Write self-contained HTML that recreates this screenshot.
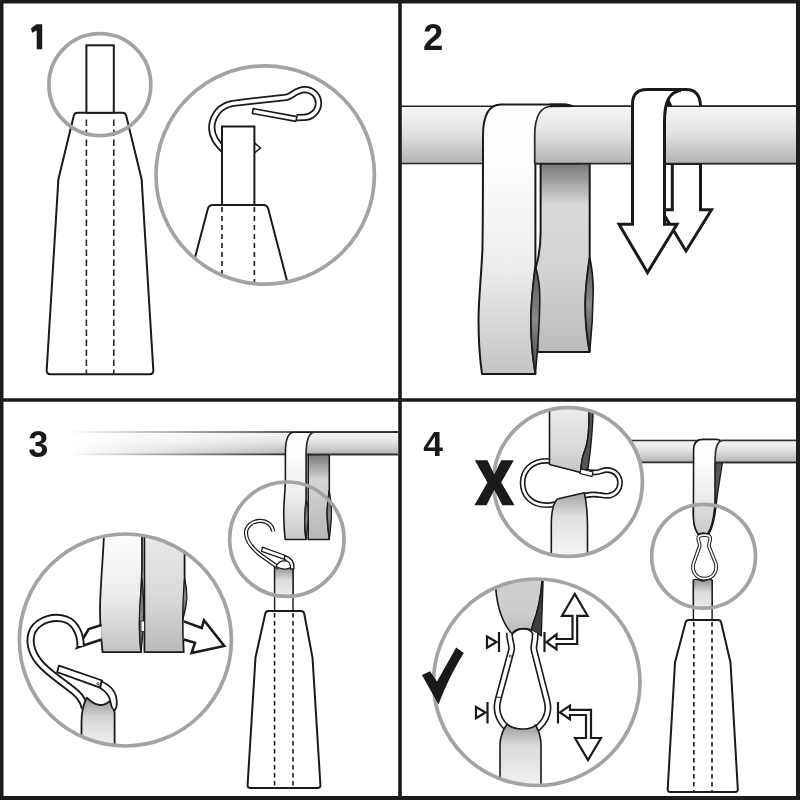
<!DOCTYPE html>
<html><head><meta charset="utf-8"><title>Instructions</title>
<style>
html,body{margin:0;padding:0;background:#fff;width:800px;height:800px;overflow:hidden}
svg{display:block}
text{font-family:"Liberation Sans",sans-serif;font-weight:bold;fill:#1a1a1a;opacity:0.999}
</style></head><body>
<svg width="800" height="800" viewBox="0 0 800 800">
<defs>
<linearGradient id="rod" x1="0" y1="0" x2="0" y2="1">
<stop offset="0" stop-color="#f6f6f6"/><stop offset="0.45" stop-color="#e2e3e4"/><stop offset="1" stop-color="#b1b3b5"/>
</linearGradient>
<linearGradient id="strapF" x1="0" y1="0" x2="0" y2="1">
<stop offset="0" stop-color="#fdfdfd"/><stop offset="0.5" stop-color="#ededed"/><stop offset="1" stop-color="#c6c6c6"/>
</linearGradient>
<linearGradient id="strapB" x1="0" y1="0" x2="0" y2="1">
<stop offset="0" stop-color="#7c7c7c"/><stop offset="0.3" stop-color="#d4d6d7"/><stop offset="1" stop-color="#b2b4b5"/>
</linearGradient>
<linearGradient id="twist" x1="0" y1="0" x2="0" y2="1">
<stop offset="0" stop-color="#555"/><stop offset="0.5" stop-color="#8a8a8a"/><stop offset="1" stop-color="#444"/>
</linearGradient>
<linearGradient id="rod2" gradientUnits="userSpaceOnUse" x1="0" y1="106.25" x2="0" y2="163.5">
<stop offset="0" stop-color="#f6f6f6"/><stop offset="0.45" stop-color="#e2e3e4"/><stop offset="1" stop-color="#b1b3b5"/>
</linearGradient>
<linearGradient id="strapF2" gradientUnits="userSpaceOnUse" x1="0" y1="163" x2="0" y2="374">
<stop offset="0" stop-color="#fdfdfd"/><stop offset="0.5" stop-color="#ececec"/><stop offset="1" stop-color="#c4c4c4"/>
</linearGradient>
<linearGradient id="strapB2" gradientUnits="userSpaceOnUse" x1="0" y1="163.5" x2="0" y2="352">
<stop offset="0" stop-color="#787878"/><stop offset="0.22" stop-color="#d6d8d9"/><stop offset="0.55" stop-color="#d2d4d5"/><stop offset="1" stop-color="#b9bbbc"/>
</linearGradient>
<linearGradient id="rod3" gradientUnits="userSpaceOnUse" x1="0" y1="432.2" x2="0" y2="454.5">
<stop offset="0" stop-color="#f6f6f6"/><stop offset="0.45" stop-color="#e2e3e4"/><stop offset="1" stop-color="#b1b3b5"/>
</linearGradient>
<linearGradient id="fade3" gradientUnits="userSpaceOnUse" x1="68" y1="0" x2="285" y2="0">
<stop offset="0" stop-color="#fff" stop-opacity="0"/><stop offset="1" stop-color="#fff" stop-opacity="1"/>
</linearGradient>
<mask id="m3"><rect x="0" y="400" width="400" height="100" fill="url(#fade3)"/></mask>
<linearGradient id="sF3" gradientUnits="userSpaceOnUse" x1="0" y1="454" x2="0" y2="540">
<stop offset="0" stop-color="#fdfdfd"/><stop offset="0.5" stop-color="#ececec"/><stop offset="1" stop-color="#c8c8c8"/>
</linearGradient>
<linearGradient id="sB3" gradientUnits="userSpaceOnUse" x1="0" y1="454.5" x2="0" y2="540">
<stop offset="0" stop-color="#7a7a7a"/><stop offset="0.3" stop-color="#d3d5d6"/><stop offset="1" stop-color="#b5b7b8"/>
</linearGradient>
<linearGradient id="sL3" gradientUnits="userSpaceOnUse" x1="0" y1="540" x2="0" y2="652">
<stop offset="0" stop-color="#fbfbfb"/><stop offset="0.5" stop-color="#ebebeb"/><stop offset="1" stop-color="#c4c4c4"/>
</linearGradient>
<linearGradient id="sR3" gradientUnits="userSpaceOnUse" x1="0" y1="540" x2="0" y2="652">
<stop offset="0" stop-color="#e6e7e8"/><stop offset="0.5" stop-color="#d8d9da"/><stop offset="1" stop-color="#b8babb"/>
</linearGradient>
<linearGradient id="sD3" gradientUnits="userSpaceOnUse" x1="0" y1="700" x2="0" y2="745">
<stop offset="0" stop-color="#9a9a9a"/><stop offset="0.38" stop-color="#d4d4d4"/><stop offset="1" stop-color="#f2f2f2"/>
</linearGradient>
<linearGradient id="sd3" gradientUnits="userSpaceOnUse" x1="0" y1="566" x2="0" y2="598">
<stop offset="0" stop-color="#8c8c8c"/><stop offset="0.45" stop-color="#dcdcdc"/><stop offset="1" stop-color="#ececec"/>
</linearGradient>
<clipPath id="c3"><circle cx="125.4" cy="640" r="106"/></clipPath>
<clipPath id="c3s"><circle cx="286.85" cy="539.2" r="57.2"/></clipPath>
<linearGradient id="rod4" gradientUnits="userSpaceOnUse" x1="0" y1="440" x2="0" y2="462.5">
<stop offset="0" stop-color="#f6f6f6"/><stop offset="0.45" stop-color="#e2e3e4"/><stop offset="1" stop-color="#b1b3b5"/>
</linearGradient>
<linearGradient id="s4a" gradientUnits="userSpaceOnUse" x1="0" y1="462" x2="0" y2="535">
<stop offset="0" stop-color="#fdfdfd"/><stop offset="0.6" stop-color="#e8e8e8"/><stop offset="1" stop-color="#c4c4c4"/>
</linearGradient>
<linearGradient id="s4b" gradientUnits="userSpaceOnUse" x1="0" y1="578" x2="0" y2="610">
<stop offset="0" stop-color="#8c8c8c"/><stop offset="0.45" stop-color="#dcdcdc"/><stop offset="1" stop-color="#ececec"/>
</linearGradient>
<linearGradient id="s4c" gradientUnits="userSpaceOnUse" x1="0" y1="410" x2="0" y2="475">
<stop offset="0" stop-color="#e9eaeb"/><stop offset="0.6" stop-color="#d8d9da"/><stop offset="1" stop-color="#c0c2c3"/>
</linearGradient>
<linearGradient id="s4d" gradientUnits="userSpaceOnUse" x1="0" y1="495" x2="0" y2="556">
<stop offset="0" stop-color="#a8a8a8"/><stop offset="0.35" stop-color="#e0e0e0"/><stop offset="1" stop-color="#f4f4f4"/>
</linearGradient>
<linearGradient id="s4e" gradientUnits="userSpaceOnUse" x1="0" y1="580" x2="0" y2="635">
<stop offset="0" stop-color="#cfd0d1"/><stop offset="0.6" stop-color="#cbcccd"/><stop offset="1" stop-color="#b9babb"/>
</linearGradient>
<linearGradient id="s4f" gradientUnits="userSpaceOnUse" x1="0" y1="723" x2="0" y2="786">
<stop offset="0" stop-color="#959595"/><stop offset="0.35" stop-color="#dadada"/><stop offset="1" stop-color="#f2f2f2"/>
</linearGradient>
<linearGradient id="s4g" gradientUnits="userSpaceOnUse" x1="0" y1="504" x2="0" y2="535">
<stop offset="0" stop-color="#dedede"/><stop offset="1" stop-color="#cbcbcb"/>
</linearGradient>
<clipPath id="c4t"><circle cx="568" cy="482" r="74.4"/></clipPath>
<clipPath id="c4s"><circle cx="703.6" cy="556.3" r="51.9"/></clipPath>
<clipPath id="c4b"><circle cx="536.75" cy="682.25" r="103.25"/></clipPath>
<clipPath id="c1"><circle cx="265.2" cy="175" r="109.2"/></clipPath>
</defs>

<!-- ================= PANEL 1 ================= -->
<g id="p1">
<path d="M36.4,24.3 H42.2 V49.2 H36.7 V30.6 L32,32.8 L31,28.2 Z" fill="#1a1a1a"/>
<!-- bottle -->
<path d="M77.5,112.8 L122.5,112.8 Q125.6,112.8 126.4,116.5 L141.6,179.2 L153.3,370 Q153.5,374.3 149.5,374.3 L50.5,374.3 Q46.5,374.3 46.7,370 L58.4,179.2 L73.6,116.5 Q74.4,112.8 77.5,112.8 Z" fill="#fff" stroke="#1a1a1a" stroke-width="2"/>
<path d="M86.4,119.4 V374 M113.8,119.4 V374" stroke="#2a2a2a" stroke-width="1.6" stroke-dasharray="6.6,3.4" fill="none"/>
<rect x="86.4" y="45.3" width="27.4" height="67.5" fill="#fff" stroke="#1a1a1a" stroke-width="2"/>
<circle cx="99.85" cy="84.65" r="50.95" fill="none" stroke="#a3a3a3" stroke-width="3.7"/>
<!-- zoom circle -->
<g clip-path="url(#c1)">
<path d="M213,205 L263.5,205 Q267.3,205 268.3,209 L292,300 L183.8,300 L207.8,209 Q208.8,205 213,205 Z" fill="#fff" stroke="#1a1a1a" stroke-width="2" stroke-linejoin="round"/>
<path d="M222,207 V290 M254.4,207 V290" stroke="#1a1a1a" stroke-width="1.6" stroke-dasharray="5,4" fill="none"/>
</g>
<!-- hook wire -->
<path d="M226,152 C214,142 210,132 212.5,122 C216,110 225,104 236,103 L286,97.3 C292,96.5 296,89.6 304.5,89.6 C313,89.6 318.5,96 318.5,103 C318.5,111 312,117.2 304,117.4 L296.5,117.6" fill="none" stroke="#1a1a1a" stroke-width="7.2" stroke-linecap="butt"/>
<path d="M226,152 C214,142 210,132 212.5,122 C216,110 225,104 236,103 L286,97.3 C292,96.5 296,89.6 304.5,89.6 C313,89.6 318.5,96 318.5,103 C318.5,111 312,117.2 304,117.4 L296.5,117.6" fill="none" stroke="#fff" stroke-width="3.7" stroke-linecap="butt"/>
<path d="M253.2,108.6 L297,116.6 L295.8,121.4 L252.4,113.4 Z" fill="#fff" stroke="#1a1a1a" stroke-width="1.6" stroke-linejoin="round"/>
<path d="M254.4,142.8 L260.6,148 L254.4,153" fill="#fff" stroke="#1a1a1a" stroke-width="1.6" stroke-linejoin="round"/>
<rect x="222" y="126.5" width="32.4" height="78.5" fill="#fff" stroke="#1a1a1a" stroke-width="2"/>
<circle cx="265.2" cy="175" r="109.2" fill="none" stroke="#a3a3a3" stroke-width="3.7"/>
</g>


<!-- ================= PANEL 2 ================= -->
<g id="p2">
<text x="423" y="50.3" font-size="36.5">2</text>
<rect x="400" y="106.25" width="397" height="57.25" fill="url(#rod2)"/>
<path d="M400,106.25 H797 M400,163.5 H797" stroke="#262626" stroke-width="1.7"/>
<!-- back strap -->
<path d="M540.6,163.5 V232 C540.6,252 537.5,262 535.6,268 L537.5,352 H589.7 C587,338 585.3,322 585.3,305 C585.3,292 587,275 589.7,257.5 V163.5 Z" fill="url(#strapB2)" stroke="#1a1a1a" stroke-width="2" stroke-linejoin="round"/>
<path d="M589.7,257.5 C587,275 585.3,292 585.3,305 C585.3,322 587,338 589.7,352 C591.5,335 593,315 593.2,290 C593.2,280 592,268 589.7,257.5 Z" fill="url(#twist)" stroke="#1a1a1a" stroke-width="1.6"/>
<!-- back arrow -->
<path d="M672.3,163.5 V209.8 H661 L686,251 L711.5,209.8 H700.5 V163.5 Z" fill="#fff" stroke="#1a1a1a" stroke-width="3" stroke-linejoin="miter"/>
<!-- front strap -->
<path d="M483,136 C483,115 489,104.5 501,104.5 H560 Q574,104.5 578,110 V163.5 H535.4 V266 C533,285 531,305 531,320 C531,345 533,360 535.4,374 H482 C480,360 478.5,340 478.5,320 C478.5,300 481,280 482.4,250 C483,220 483,180 483,136 Z" fill="url(#strapF2)" stroke="#1a1a1a" stroke-width="2" stroke-linejoin="round"/>
<path d="M535.4,266 C533,285 531,305 531,320 C531,345 533,360 535.4,374 C537,355 539.5,330 539.8,300 C540,290 538,275 535.4,266 Z" fill="url(#twist)" stroke="#1a1a1a" stroke-width="1.6"/>
<!-- rod patch A -->
<path d="M534.7,163.5 V136 C534.7,116 540,106.25 552,106.25 H797 V163.5 Z" fill="url(#rod2)"/>
<path d="M534.7,163.5 V136 C534.7,116 540,106.25 552,106.25 H797 M534.7,163.5 H797" fill="none" stroke="#262626" stroke-width="1.7"/>
<path d="M550,103.6 L565,103.6 C569,103.8 572,104.8 575.5,106.9 L550,107.2 Z" fill="#1a1a1a"/>
<!-- front arrow loop -->
<path d="M632.5,224.2 H619 L647.5,272.5 L677,224.2 H664.5 V163.5 H700.5 V106 Q700,89.5 686,89.5 H647 Q632.5,89.5 632.5,104 Z" fill="#fff" stroke="#1a1a1a" stroke-width="3" stroke-linejoin="miter"/>
<!-- rod patch B -->
<path d="M664.5,163.5 V122 Q665,108 668,106.25 H797 V163.5 Z" fill="url(#rod2)"/>
<path d="M664.5,224 V122 C664.5,100 670,92 681,90.5" fill="none" stroke="#1a1a1a" stroke-width="3"/>
<path d="M666,106.5 L669.5,99.5 L672.5,106.5 Z" fill="#1a1a1a"/>
<path d="M668,106.25 H797 M664.5,163.5 H797" fill="none" stroke="#262626" stroke-width="1.7"/>
</g>


<!-- ================= PANEL 3 ================= -->
<g id="p3">
<text x="28.2" y="457.2" font-size="36.3">3</text>
<g mask="url(#m3)">
<rect x="0" y="432.2" width="398" height="22.3" fill="url(#rod3)"/>
<path d="M0,432 H398 M0,454.4 H398" stroke="#2e2e2e" stroke-width="1.7"/>
</g>
<!-- back strap -->
<path d="M308.2,454.5 V539.5 H329.3 C327.5,525 327,515 327.2,510 C327.5,505 328.5,497 329.3,490 V454.5 Z" fill="url(#sB3)" stroke="#1a1a1a" stroke-width="1.6" stroke-linejoin="round"/>
<path d="M329.3,490 C327.5,502 327,510 327.2,515 C327.5,525 328.5,532 329.3,539.5 C330.5,530 331.5,520 331.5,513 C331.5,505 330.5,497 329.3,490 Z" fill="url(#twist)" stroke="#1a1a1a" stroke-width="1.2"/>
<!-- front strap -->
<path d="M285.4,453 C285.4,440 288,432.2 294,432.2 H312 Q318,432.2 318,438 V454.5 H306.1 V500 C305,512 304.5,522 305,530 C305.3,535 305.8,537 306.1,539.5 H285.2 C284,530 283.6,520 283.8,510 C284,500 285.2,490 285.4,480 Z" fill="url(#sF3)" stroke="#1a1a1a" stroke-width="1.6" stroke-linejoin="round"/>
<path d="M306.1,500 C304.8,512 304.5,522 305,530 C305.3,535 305.8,537 306.1,539.5 C307.3,530 308.3,520 308.3,513 C308.3,507 307.3,503 306.1,500 Z" fill="url(#twist)" stroke="#1a1a1a" stroke-width="1.2"/>
<!-- rod patch -->
<path d="M306.1,454.5 C306.1,440 309,432.2 315,432.2 H398 V454.5 Z" fill="url(#rod3)"/>
<path d="M306.1,454.5 C306.1,440 309,432.2 315,432.2 H398 M306.1,454.4 H398" fill="none" stroke="#2e2e2e" stroke-width="1.7"/>
<!-- bottle -->
<path d="M268.5,611 L301,611 Q303.5,611 304.2,613.5 L312.5,657.5 L320.4,785 Q320.6,788 317.6,788 L250.4,788 Q247.4,788 247.6,785 L255.5,657.5 L265.3,613.5 Q266,611 268.5,611 Z" fill="#fff" stroke="#1a1a1a" stroke-width="2"/>
<path d="M274.6,613 V788 M293,613 V788" stroke="#1a1a1a" stroke-width="1.6" stroke-dasharray="4.5,3.5" fill="none"/>
<!-- narrow strap from clip to bottle -->
<path d="M274.6,566 V611 M293,566 V611" stroke="#1a1a1a" stroke-width="1.4"/>
<g clip-path="url(#c3s)">
<path d="M274.6,566 L293,566 L293,611 L274.6,611 Z" fill="url(#sd3)" stroke="#1a1a1a" stroke-width="1.4"/>
</g>
<!-- small hook -->
<path d="M273.2,531.5 C272,524 266,520.5 259.8,520.8 C252,521.2 245.8,526.5 246,533.5 C246.2,541 252,548 260,554.5 L279,568" fill="none" stroke="#1a1a1a" stroke-width="4.2"/>
<path d="M273.2,531.5 C272,524 266,520.5 259.8,520.8 C252,521.2 245.8,526.5 246,533.5 C246.2,541 252,548 260,554.5 L279,568" fill="none" stroke="#fff" stroke-width="1.8"/>
<path d="M262.3,547.2 L285.5,555.5 L284.6,559.4 L261.6,551.4 Z" fill="#fff" stroke="#1a1a1a" stroke-width="1.3" stroke-linejoin="round"/>
<path d="M284.5,555.5 C290,557 294.5,561 294,568.8 L290.5,569 C290.5,564 288,561.5 284.6,559.4 Z" fill="#fff" stroke="#1a1a1a" stroke-width="1.3" stroke-linejoin="round"/>
<path d="M276,566.5 C278,562 282,560.5 286,561 C289,561.5 290.5,564 290.5,567.5 C288,569.5 282,570 276,566.5 Z" fill="#fff" stroke="#1a1a1a" stroke-width="1.2"/>
<circle cx="286.85" cy="539.2" r="57.2" fill="none" stroke="#a3a3a3" stroke-width="3.7"/>
<!-- big zoom circle -->
<g clip-path="url(#c3)">
<path d="M104.5,525 C103,560 100,590 100,610 C100,630 102,645 102.5,652.2 H141 C140,640 139.5,625 140,615 C140.5,600 141.5,585 142,570 V525 Z" fill="url(#sL3)" stroke="#1a1a1a" stroke-width="1.8" stroke-linejoin="round"/>
<path d="M142,578 C140,600 139,615 139.3,630 C139.5,640 140.3,647 141,652.2 C142.5,640 143.8,625 143.8,610 C143.8,598 143,588 142,578 Z" fill="url(#twist)" stroke="#1a1a1a" stroke-width="1.2"/>
<path d="M144.4,525 V652.2 H183.75 C183.2,640 182.8,628 183,619 C183.5,605 184.5,590 184.6,578 V525 Z" fill="url(#sR3)" stroke="#1a1a1a" stroke-width="1.8" stroke-linejoin="round"/>
<path d="M184.6,578 C183,595 182.7,608 183,619 C184.5,614 186.5,605 187,598 C187,590 186,584 184.6,578 Z" fill="url(#twist)" stroke="#1a1a1a" stroke-width="1.2"/>
<rect x="141" y="621" width="3.4" height="10.5" fill="#fff" stroke="#1a1a1a" stroke-width="0.8"/>
<!-- arrows -->
<path d="M183.75,621.4 L201.75,628 L204,620.25 L224.25,646 L191.6,652.9 L195,642.75 L183.75,639.4" fill="#fff" stroke="#1a1a1a" stroke-width="2.6" stroke-linejoin="miter"/>
<path d="M101.6,625 L88.75,629 L77.5,647.5 L101.6,639.4" fill="#fff" stroke="#1a1a1a" stroke-width="2.6" stroke-linejoin="miter"/>
<!-- hook wire -->
<path d="M80.5,646 C81,636 76,623 66,619.5 C55,615.5 40,619 33,630 C28,640 31,652 39,662 C47,672 60,680 70,688 C78,694 83,699 85,708" fill="none" stroke="#1a1a1a" stroke-width="8.2"/>
<path d="M80.5,646 C81,636 76,623 66,619.5 C55,615.5 40,619 33,630 C28,640 31,652 39,662 C47,672 60,680 70,688 C78,694 83,699 85,708" fill="none" stroke="#fff" stroke-width="4.4"/>
<!-- lower strap -->
<path d="M81.5,760 V722 C81.5,713 84,703 86.8,697.7 C92,703 96.5,705 100,705 C104,705 107,703.5 109.3,701.3 C112,704 114.1,708 114.6,713 V760 Z" fill="url(#sD3)" stroke="#1a1a1a" stroke-width="1.8" stroke-linejoin="round"/>
<!-- latch -->
<path d="M58.9,665.7 L102.2,680.5 L99.9,687.6 L57.1,672.2 Z" fill="#fff" stroke="#1a1a1a" stroke-width="1.8" stroke-linejoin="round"/>
<path d="M101.5,681.5 C110,685 116.5,692 116.8,702 C117,706 116,709 114.3,711 C112.5,709 111,706 110.6,702.5 C110,697 106,691.5 100.2,688 Z" fill="#fff" stroke="#1a1a1a" stroke-width="1.8" stroke-linejoin="round"/>
<circle cx="98" cy="683.8" r="1.1" fill="none" stroke="#1a1a1a" stroke-width="0.8"/>
</g>
<circle cx="125.4" cy="640" r="106" fill="none" stroke="#a3a3a3" stroke-width="3.7"/>
</g>


<!-- ================= PANEL 4 ================= -->
<g id="p4">
<text x="423.2" y="455.8" font-size="35.5">4</text>
<!-- rod -->
<rect x="600" y="440" width="197" height="22.5" fill="url(#rod4)"/>
<path d="M600,440.5 H797 M600,462.4 H797" stroke="#2e2e2e" stroke-width="1.6"/>
<!-- dark twist behind strap -->
<path d="M713.5,462.5 L722.5,462.5 C720,478 717.5,492 716.2,505 C715,518 712.5,528 709,534 L707,534 C712,524 714.5,512 715,500 Z" fill="#555" stroke="#1a1a1a" stroke-width="1.3" stroke-linejoin="round"/>
<!-- strap -->
<path id="st4" d="M693.6,450 C693.6,443 697,439.4 703,439.4 H716 Q722,439.4 722,445 V462.5 H715 V500 C714.6,514 712.3,527 707.5,534.3 C705.5,532.5 700.5,532.5 698.3,534.3 C695,530 693.4,524 693.4,515 Z" fill="url(#s4a)" stroke="#1a1a1a" stroke-width="1.6" stroke-linejoin="round"/>
<g clip-path="url(#c4s)">
<path d="M693.4,500 H715 C714.6,514 712.3,527 707.5,534.3 C705.5,532.5 700.5,532.5 698.3,534.3 C695,530 693.4,524 693.4,515 Z" fill="url(#s4g)" stroke="#1a1a1a" stroke-width="1.6" stroke-linejoin="round"/>
</g>
<!-- rod patch -->
<path d="M715,462.5 C715,448 717,440 723,440 H797 V462.5 Z" fill="url(#rod4)"/>
<path d="M715,462.5 C715,448 717,440.5 723,440.5 H797 M715,462.4 H797" fill="none" stroke="#2e2e2e" stroke-width="1.6"/>
<!-- small carabiner -->
<path d="M704.2,535.2 C700.5,535.2 698.2,536.3 698.2,538.5 C698.2,541.5 700.2,543.5 699.6,546.5 L693.6,563 C691.6,570 695,578.6 704.5,578.6 C714,578.6 717.6,570 715.6,563 L709,546.5 C708.4,543.5 710.3,541.5 710.3,538.5 C710.3,536.3 708,535.2 704.2,535.2 Z" fill="none" stroke="#1a1a1a" stroke-width="3.7"/>
<path d="M704.2,535.2 C700.5,535.2 698.2,536.3 698.2,538.5 C698.2,541.5 700.2,543.5 699.6,546.5 L693.6,563 C691.6,570 695,578.6 704.5,578.6 C714,578.6 717.6,570 715.6,563 L709,546.5 C708.4,543.5 710.3,541.5 710.3,538.5 C710.3,536.3 708,535.2 704.2,535.2 Z" fill="none" stroke="#fff" stroke-width="1.7"/>
<!-- lower narrow strap -->
<path d="M693.4,580 V620 M712.1,580 V620" stroke="#1a1a1a" stroke-width="1.4"/>
<g clip-path="url(#c4s)">
<path d="M693.4,580 C697,578 700,581 703,581 C706,581 709,578 712.1,580 V620 H693.4 Z" fill="url(#s4b)" stroke="#1a1a1a" stroke-width="1.4"/>
</g>
<circle cx="703.6" cy="556.3" r="51.9" fill="none" stroke="#a3a3a3" stroke-width="3.7"/>
<!-- bottle -->
<path d="M688.5,620 L718.2,620 Q720.5,620 721.1,622.3 L730.5,662.5 L737.8,789 Q738,792 735,792 L670.5,792 Q667.5,792 667.7,789 L675,662.5 L685.6,622.3 Q686.2,620 688.5,620 Z" fill="#fff" stroke="#1a1a1a" stroke-width="2"/>
<path d="M693.8,622 V792 M712,622 V792" stroke="#1a1a1a" stroke-width="1.6" stroke-dasharray="4.5,3.5" fill="none"/>

<!-- top circle (X) -->
<circle cx="568" cy="482" r="74.4" fill="#fff"/>
<g clip-path="url(#c4t)">
<!-- carabiner horizontal -->
<path id="cbh" d="M546.5,460.8 C532,460.8 522.6,470 522.6,483 C522.6,496 532,505.2 546.5,505.2 C562,505.2 578,494.5 594,494.5 C600,494.5 602,495.8 607,495.8 C614.5,495.8 620,490 620,482.8 C620,475.6 614.5,470 607,470 C602,470 600,472.5 594,472.5 C578,472.5 562,460.8 546.5,460.8 Z" fill="none" stroke="#1a1a1a" stroke-width="5.8"/>
<path d="M546.5,460.8 C532,460.8 522.6,470 522.6,483 C522.6,496 532,505.2 546.5,505.2 C562,505.2 578,494.5 594,494.5 C600,494.5 602,495.8 607,495.8 C614.5,495.8 620,490 620,482.8 C620,475.6 614.5,470 607,470 C602,470 600,472.5 594,472.5 C578,472.5 562,460.8 546.5,460.8 Z" fill="none" stroke="#fff" stroke-width="2.6"/>
<!-- upper strap -->
<path d="M549.5,400 V464.5 L580.8,472.5 C581,465 582,457 585,450 C588.5,441 589.2,430 589.2,400 Z" fill="url(#s4c)" stroke="#1a1a1a" stroke-width="1.6" stroke-linejoin="round"/>
<path d="M589.2,400 C589.2,430 588.5,441 585,450 C582,457 581,465 580.8,472.5 L588,468.5 C590,455 593,430 593.5,400 Z" fill="#555" stroke="#1a1a1a" stroke-width="1.4" stroke-linejoin="round"/>
<path d="M581,469 L593,472 L592,476.5 L580,473.5 Z" fill="#fff" stroke="#1a1a1a" stroke-width="1.2"/>
<!-- lower strap -->
<path d="M557.3,499 L584.3,492.8 C586,500 587.3,510 587.5,525 V560 H551.3 V525 C551.3,512 553.5,503 557.3,499 Z" fill="url(#s4d)" stroke="#1a1a1a" stroke-width="1.6" stroke-linejoin="round"/>
</g>
<circle cx="568" cy="482" r="74.4" fill="none" stroke="#a3a3a3" stroke-width="3.7"/>
<path d="M474.75,460.2 L487.4,460.2 L494.3,474.4 L501.2,460.2 L513.8,460.2 L501.2,482.5 L514.6,505.3 L502.4,505.3 L494.3,489.8 L486.5,505.3 L474.4,505.3 L487.4,482.5 Z" fill="#1a1a1a"/>
<!-- X -->


<!-- bottom circle (check) -->
<g clip-path="url(#c4b)">
<!-- upper strap -->
<path d="M495.4,575 C495,600 500,620 512,634 C518,628 526,628 531.7,630 C532,627 532.5,626 533,624 C537,614 541,600 542.5,575 Z" fill="url(#s4e)" stroke="#1a1a1a" stroke-width="1.6" stroke-linejoin="round"/>
<path d="M542.5,578 C541,600 537,614 533,624 C532.3,626 531.8,628 531.7,630 C535,631 538.5,634 541.3,636 C541.8,620 542.6,600 543.2,578 Z" fill="#3f3f3f" stroke="#1a1a1a" stroke-width="1.3" stroke-linejoin="round"/>
<!-- carabiner vertical -->
<path d="M509.5,633 C509,640 512.5,645 511.5,650 L498,700 C494,715 504,733 522,733 C540,733 551,716 547,701 L534,650 C533,645 536,640 535,633" fill="none" stroke="#1a1a1a" stroke-width="7"/>
<path d="M509.5,633 C509,640 512.5,645 511.5,650 L498,700 C494,715 504,733 522,733 C540,733 551,716 547,701 L534,650 C533,645 536,640 535,633" fill="none" stroke="#fff" stroke-width="3.8"/>
<path d="M512,634 C515,627 530,627 533,634" fill="none" stroke="#1a1a1a" stroke-width="1.6"/>
<path d="M496,697 L502,697.5" stroke="#1a1a1a" stroke-width="1"/>
<circle cx="510.3" cy="656.2" r="1.1" fill="none" stroke="#1a1a1a" stroke-width="0.8"/>
<!-- lower strap -->
<path d="M500,790 V745 C500,737 503,730 507,724 C513,730 530,731 535.5,725 C539,731 541,737 541,745 V790 Z" fill="url(#s4f)" stroke="#1a1a1a" stroke-width="1.6" stroke-linejoin="round"/>
</g>
<circle cx="536.75" cy="682.25" r="103.25" fill="none" stroke="#a3a3a3" stroke-width="3.7"/>
<!-- check mark -->
<path d="M421.9,675 L430,671.2 L437,681.5 L456.2,647.5 L463.8,653.1 C455,667 446,685 438.5,704.5 Z" fill="#1a1a1a"/>
<!-- markers -->
<g fill="#fff" stroke="#1a1a1a" stroke-width="2.2" stroke-linejoin="miter">
<path d="M487,636.5 L496.5,642 L487,647.7 Z"/>
<path d="M499,632 V652" fill="none"/>
<path d="M476,707 L485.5,712.5 L476,718.3 Z"/>
<path d="M487.5,702 V723.5" fill="none"/>
<path d="M544.5,632 V652" fill="none"/>
<path d="M546.5,642.2 L556.5,634.3 V639 H572.5 V615.8 H562 L574.8,594 L587.6,615.8 H577.2 V644 H556.5 V649.3 Z"/>
<path d="M558,702 V723.5" fill="none"/>
<path d="M560,712.4 L570,705.6 V709.8 H591 V738 H601 L588,760 L575,738 H586 V715 H570 V719.4 Z"/>
</g>
</g>

<!-- frame -->
<path d="M0,0 H800 V800 H0 Z M3.5,3.5 V796 H796 V3.5 Z" fill="#1c1c1c" fill-rule="evenodd"/>
<path d="M400,0 V800 M0,400 H800" stroke="#1c1c1c" stroke-width="3.6"/>
</svg>
</body></html>
